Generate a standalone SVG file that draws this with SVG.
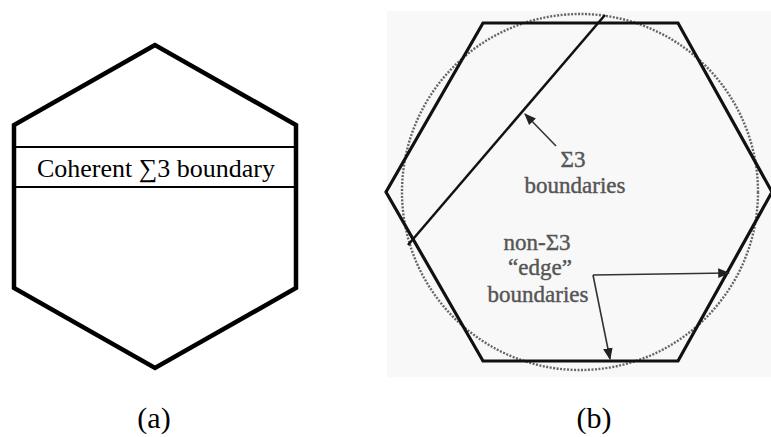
<svg xmlns="http://www.w3.org/2000/svg" width="771" height="437" viewBox="0 0 771 437">
<style>
.hex{fill:none;stroke:#000;stroke-width:4.5;stroke-linejoin:miter}
.hex2{fill:none;stroke:#111;stroke-width:3.2;stroke-linejoin:miter}
.tb{stroke:#000;stroke-width:2}
.lbl{font-family:'Liberation Serif','DejaVu Serif',serif;fill:#000}
.glbl{font-family:'Liberation Serif','DejaVu Serif',serif;fill:#555;font-size:23px;text-anchor:middle;stroke:#555;stroke-width:0.4}
.conn{fill:none;stroke:#333;stroke-width:1.6}
</style>
<defs>
<marker id="ah2" viewBox="0 0 10 10" refX="9" refY="5" markerWidth="12" markerHeight="12" orient="auto" markerUnits="userSpaceOnUse">
<path d="M0,1 L10,5 L0,9 z" fill="#222"/>
</marker>
</defs>
<rect width="771" height="437" fill="#fff"/>
<g id="grain-a">
<polygon class="hex" points="155,45 14,125 14,288 155,368 296,288 296,125"/>
<line class="tb" x1="14" y1="147" x2="296" y2="147"/>
<line class="tb" x1="14" y1="187" x2="296" y2="187"/>
<text class="lbl" x="156" y="177" font-size="26" text-anchor="middle">Coherent ∑3 boundary</text>
</g>
<g id="grain-b">
<rect x="387" y="11" width="384" height="366" fill="#f8f8f8"/>
<circle cx="580" cy="192" r="178" fill="none" stroke="#666" stroke-width="2.4" stroke-dasharray="2,1.5"/>
<polygon class="hex2" points="483,23 678,23 772,192 678,361 483,361 386,192"/>
<line x1="605" y1="15" x2="408" y2="245" stroke="#111" stroke-width="2.5"/>
</g>
<g id="label-sigma3">
<text class="glbl" x="573" y="167">Σ3</text>
<text class="glbl" x="575" y="193">boundaries</text>
</g>
<g id="label-nonsigma3">
<text class="glbl" x="537" y="250">non-Σ3</text>
<text class="glbl" x="540" y="275">“edge”</text>
<text class="glbl" x="538" y="302">boundaries</text>
</g>
<g id="connectors">
<line class="conn" x1="556" y1="146" x2="525" y2="114" marker-end="url(#ah2)"/>
<polyline class="conn" points="593,275 729,273" marker-end="url(#ah2)"/>
<polyline class="conn" points="593,275 610,359" marker-end="url(#ah2)"/>
</g>
<g id="captions">
<text class="lbl" x="154" y="428" font-size="30" text-anchor="middle">(a)</text>
<text class="lbl" x="594" y="428" font-size="30" text-anchor="middle">(b)</text>
</g>
</svg>
